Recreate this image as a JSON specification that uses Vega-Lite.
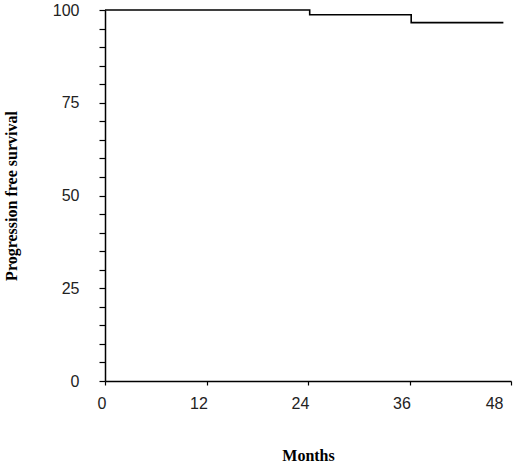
{
  "$schema": "https://vega.github.io/schema/vega-lite/v6.json",
  "width": 406,
  "height": 371,
  "autosize": {"type": "none"},
  "padding": {"left": 105, "top": 10, "right": 9, "bottom": 82},
  "background": "white",
  "data": {"values": [
    {"month": 0, "pfs": 100},
    {"month": 24.2, "pfs": 98.7},
    {"month": 36.2, "pfs": 96.6},
    {"month": 47.1, "pfs": 96.6}
  ]},
  "mark": {"type": "line", "interpolate": "step-after", "color": "black", "strokeWidth": 1.6},
  "encoding": {
    "x": {
      "field": "month", "type": "quantitative",
      "scale": {"domain": [0, 48], "nice": false, "zero": false},
      "axis": {
        "values": [0, 12, 24, 36, 48],
        "title": "Months", "grid": false,
        "domainColor": "black", "domainWidth": 1.5,
        "tickColor": "black", "tickWidth": 1.2, "tickSize": 4,
        "labelFont": "Liberation Sans", "labelFontSize": 16, "labelColor": "#222",
        "labelPadding": 10, "labelOffset": -8,
        "titleFont": "Liberation Serif", "titleFontSize": 16, "titleFontWeight": "bold",
        "titleColor": "black", "titlePadding": 36
      }
    },
    "y": {
      "field": "pfs", "type": "quantitative",
      "scale": {"domain": [0, 100], "nice": false},
      "axis": {
        "values": [0, 5, 10, 15, 20, 25, 30, 35, 40, 45, 50, 55, 60, 65, 70, 75, 80, 85, 90, 95, 100],
        "labelExpr": "datum.value % 25 == 0 ? datum.label : ''",
        "title": "Progression free survival", "grid": false,
        "domainColor": "black", "domainWidth": 1.5,
        "tickColor": "black", "tickWidth": 1.2, "tickSize": 6,
        "labelFont": "Liberation Sans", "labelFontSize": 16, "labelColor": "#222",
        "labelPadding": 20,
        "titleFont": "Liberation Serif", "titleFontSize": 16, "titleFontWeight": "bold",
        "titleColor": "black", "titlePadding": 33
      }
    }
  },
  "config": {"view": {"stroke": null}}
}
